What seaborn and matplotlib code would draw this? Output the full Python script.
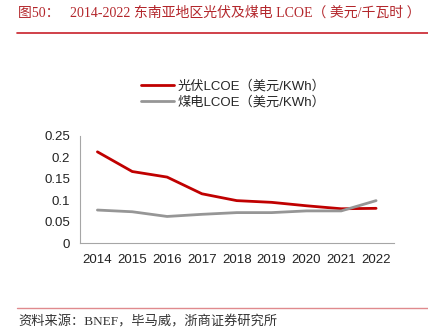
import matplotlib
matplotlib.use("Agg")
import matplotlib.pyplot as plt
import seaborn as sns
import pandas as pd
from matplotlib.lines import Line2D

years = ["2014", "2015", "2016", "2017", "2018", "2019", "2020", "2021", "2022"]
pv_lcoe = [0.213, 0.167, 0.154, 0.115, 0.099, 0.095, 0.087, 0.080, 0.081]
coal_lcoe = [0.077, 0.073, 0.062, 0.067, 0.071, 0.071, 0.075, 0.075, 0.099]
series_names = ["光伏LCOE（美元/KWh）", "煤电LCOE（美元/KWh）"]
yticks = [0, 0.05, 0.1, 0.15, 0.2, 0.25]
ytick_labels = ["0", "0.05", "0.1", "0.15", "0.2", "0.25"]
title = "图50：   2014-2022 东南亚地区光伏及煤电 LCOE（ 美元/千瓦时 ）"
source = "资料来源：BNEF，毕马威，浙商证券研究所"

sns.set_style("white")
plt.rcParams["font.family"] = ["Liberation Sans", "Noto Sans CJK SC", "DejaVu Sans"]

df = pd.DataFrame({
    "x": list(range(len(years))) * 2,
    "value": pv_lcoe + coal_lcoe,
    "series": [series_names[0]] * len(years) + [series_names[1]] * len(years),
})
palette = {series_names[0]: "#C00000", series_names[1]: "#969696"}

fig = plt.figure(figsize=(4.28, 3.35), dpi=100)
ax = fig.add_axes([80 / 428, 1 - 243 / 335, (393.5 - 80) / 428, (243 - 136) / 335])
sns.lineplot(data=df, x="x", y="value", hue="series", palette=palette,
             linewidth=2.0, ax=ax, legend=False)

ax.set_xlim(-0.5, len(years) - 0.5)
ax.set_ylim(0, 0.25)
ax.set_yticks(yticks)
ax.set_yticklabels(ytick_labels, fontsize=9.5, color="#222222")
ax.set_xticks(range(len(years)))
ax.set_xticklabels(years, fontsize=9.5, color="#222222")
ax.set_xticks([i - 0.5 for i in range(len(years) + 1)], minor=True)
ax.tick_params(axis="x", which="major", length=0, pad=8)
ax.tick_params(axis="x", which="minor", length=4, width=0.8, color="#A6A6A6", direction="out")
ax.tick_params(axis="y", which="major", length=3, width=0.8, color="#A6A6A6", direction="out", pad=4)
ax.set_xlabel("")
ax.set_ylabel("")
for side in ["top", "right"]:
    ax.spines[side].set_visible(False)
for side in ["left", "bottom"]:
    ax.spines[side].set_color("#A6A6A6")
    ax.spines[side].set_linewidth(0.8)

handles = [Line2D([0], [0], color=palette[n], lw=2.0) for n in series_names]
fig.legend(handles, series_names, loc="upper left",
           bbox_to_anchor=(134 / 428, 1 - 73 / 335), frameon=False,
           prop={"family": ["Liberation Sans", "Noto Sans CJK SC", "DejaVu Sans"], "size": 9.5},
           handlelength=2.5, handletextpad=0.3, labelspacing=0.3, borderpad=0)

fig.text(18 / 428, 1 - 13 / 335, title, color="#B3262B", fontsize=10,
         family=["Liberation Serif", "Noto Sans CJK SC", "DejaVu Sans"], va="center", ha="left")
fig.add_artist(Line2D([17 / 428, 1.0], [1 - 33 / 335, 1 - 33 / 335],
                      color="#C8202A", lw=1.2))
fig.add_artist(Line2D([17 / 428, 1.0], [1 - 308 / 335, 1 - 308 / 335],
                      color="#E08A8E", lw=1.0))
fig.text(18 / 428, 1 - 322 / 335, source, color="#333333", fontsize=9.5,
         family=["Liberation Serif", "Noto Sans CJK SC", "DejaVu Sans"], va="center", ha="left")

fig.savefig("out.png", dpi=100)
